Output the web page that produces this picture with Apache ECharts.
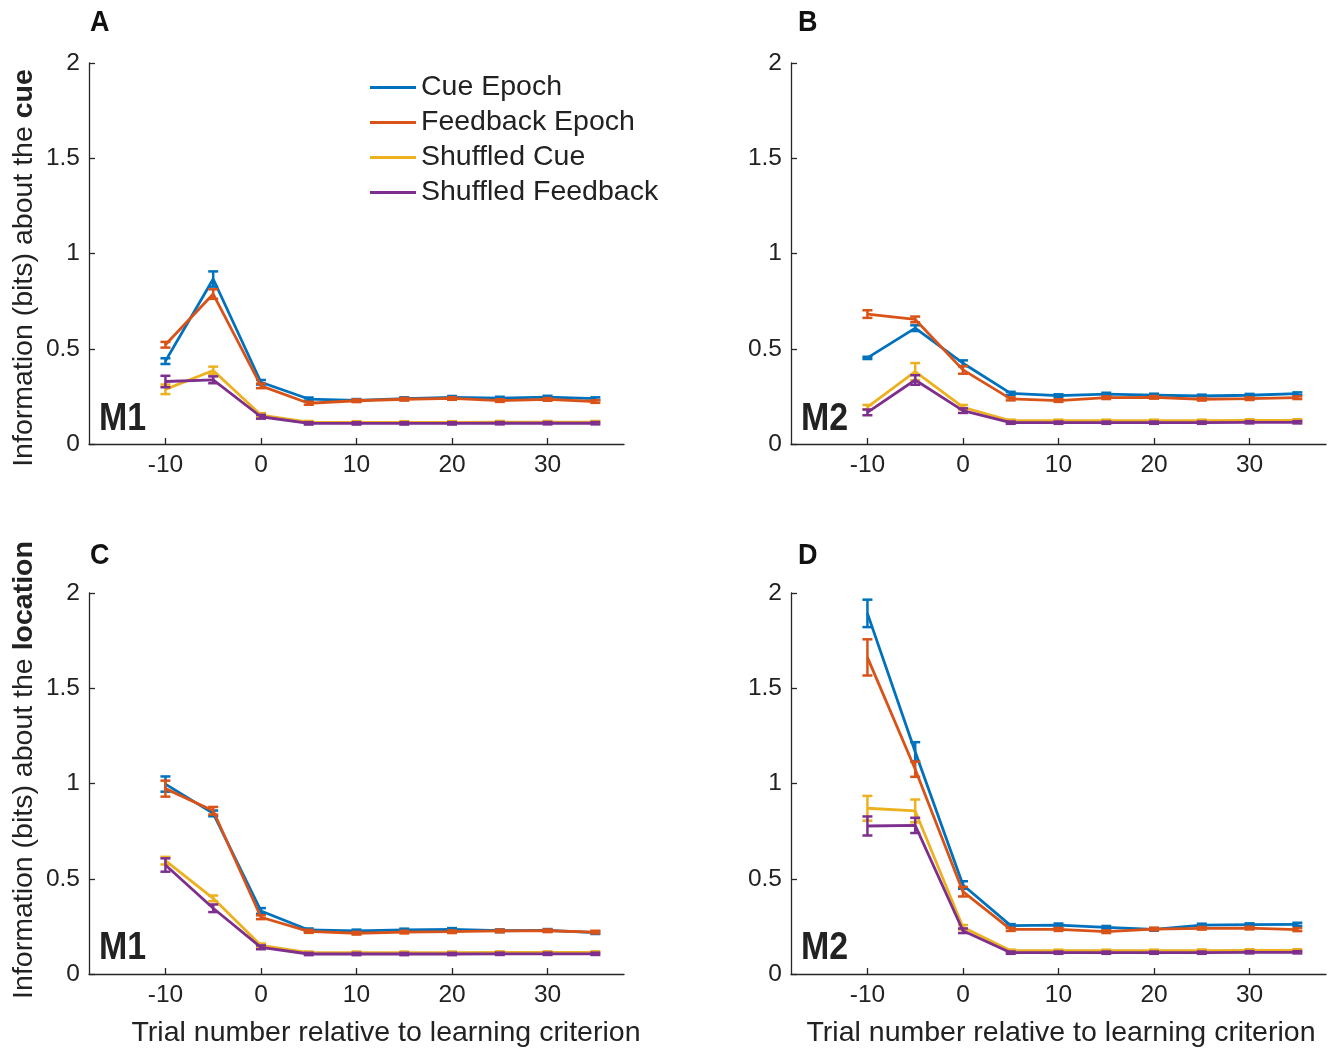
<!DOCTYPE html>
<html>
<head>
<meta charset="utf-8">
<script src="https://cdn.jsdelivr.net/npm/echarts@6/dist/echarts.min.js"></script>
<style>
html,body{margin:0;padding:0;background:#fff;}
#chart{width:1332px;height:1049px;}
</style>
</head>
<body>
<div id="chart"></div>
<script>
// ---- data ----
const trials = [-10, -5, 0, 5, 10, 15, 20, 25, 30, 35];
const xTicks = [-10, 0, 10, 20, 30];
const seriesNames = ['Cue Epoch', 'Feedback Epoch', 'Shuffled Cue', 'Shuffled Feedback'];

// Panel A (M1, cue)
const cueA      = [0.435, 0.866, 0.324, 0.236, 0.229, 0.238, 0.245, 0.241, 0.246, 0.238];
const cueAErr   = [0.015, 0.040, 0.012, 0.008, 0.007, 0.007, 0.007, 0.007, 0.007, 0.007];
const fbA       = [0.521, 0.787, 0.305, 0.214, 0.227, 0.235, 0.239, 0.228, 0.234, 0.223];
const fbAErr    = [0.015, 0.025, 0.012, 0.008, 0.007, 0.007, 0.007, 0.007, 0.007, 0.007];
const shCueA    = [0.287, 0.386, 0.152, 0.115, 0.114, 0.114, 0.114, 0.115, 0.115, 0.115];
const shCueAErr = [0.025, 0.020, 0.010, 0.006, 0.006, 0.006, 0.006, 0.006, 0.006, 0.006];
const shFbA     = [0.328, 0.337, 0.143, 0.108, 0.108, 0.108, 0.108, 0.109, 0.109, 0.109];
const shFbAErr  = [0.030, 0.018, 0.010, 0.006, 0.006, 0.006, 0.006, 0.006, 0.006, 0.006];

// Panel B (M2, cue)
const cueB      = [0.452, 0.608, 0.424, 0.266, 0.254, 0.262, 0.257, 0.252, 0.256, 0.264];
const cueBErr   = [0.006, 0.015, 0.015, 0.008, 0.007, 0.007, 0.007, 0.007, 0.007, 0.007];
const fbB       = [0.682, 0.654, 0.389, 0.237, 0.228, 0.243, 0.245, 0.235, 0.238, 0.243];
const fbBErr    = [0.020, 0.015, 0.020, 0.008, 0.007, 0.007, 0.007, 0.007, 0.007, 0.007];
const shCueB    = [0.193, 0.380, 0.193, 0.122, 0.122, 0.122, 0.122, 0.122, 0.124, 0.124];
const shCueBErr = [0.012, 0.045, 0.012, 0.006, 0.006, 0.006, 0.006, 0.006, 0.006, 0.006];
const shFbB     = [0.166, 0.336, 0.175, 0.112, 0.112, 0.112, 0.112, 0.112, 0.114, 0.114];
const shFbBErr  = [0.015, 0.025, 0.012, 0.006, 0.006, 0.006, 0.006, 0.006, 0.006, 0.006];

// Panel C (M1, location)
const cueC      = [0.997, 0.843, 0.331, 0.231, 0.226, 0.231, 0.234, 0.227, 0.229, 0.217];
const cueCErr   = [0.040, 0.015, 0.015, 0.008, 0.007, 0.007, 0.007, 0.007, 0.007, 0.007];
const fbC       = [0.973, 0.857, 0.298, 0.224, 0.214, 0.220, 0.222, 0.226, 0.227, 0.220];
const fbCErr    = [0.042, 0.020, 0.010, 0.008, 0.007, 0.007, 0.007, 0.007, 0.007, 0.007];
const shCueC    = [0.595, 0.397, 0.150, 0.112, 0.112, 0.112, 0.112, 0.113, 0.113, 0.113];
const shCueCErr = [0.020, 0.015, 0.010, 0.006, 0.006, 0.006, 0.006, 0.006, 0.006, 0.006];
const shFbC     = [0.572, 0.345, 0.140, 0.105, 0.105, 0.105, 0.105, 0.106, 0.106, 0.106];
const shFbCErr  = [0.035, 0.020, 0.010, 0.006, 0.006, 0.006, 0.006, 0.006, 0.006, 0.006];

// Panel D (M2, location)
const cueD      = [1.893, 1.167, 0.467, 0.254, 0.257, 0.245, 0.234, 0.257, 0.259, 0.261];
const cueDErr   = [0.072, 0.050, 0.020, 0.008, 0.008, 0.007, 0.007, 0.007, 0.007, 0.008];
const fbD       = [1.662, 1.075, 0.432, 0.234, 0.234, 0.222, 0.236, 0.240, 0.241, 0.233];
const fbDErr    = [0.095, 0.040, 0.025, 0.008, 0.008, 0.007, 0.007, 0.007, 0.007, 0.008];
const shCueD    = [0.870, 0.856, 0.245, 0.122, 0.122, 0.122, 0.122, 0.123, 0.124, 0.124];
const shCueDErr = [0.065, 0.060, 0.012, 0.006, 0.006, 0.006, 0.006, 0.006, 0.006, 0.006];
const shFbD     = [0.777, 0.780, 0.227, 0.112, 0.112, 0.112, 0.112, 0.112, 0.114, 0.114];
const shFbDErr  = [0.050, 0.040, 0.012, 0.006, 0.006, 0.006, 0.006, 0.006, 0.006, 0.006];

const panelLetters = ['A', 'B', 'C', 'D'];
const monkeyLabels = ['M1', 'M2', 'M1', 'M2'];
const yLabelTopic = ['cue', 'location'];
const xLabel = 'Trial number relative to learning criterion';

// ---- build ----
const colors = ['#0072BD', '#D95319', '#EDB120', '#7E2F8E'];
const panels = [
  [[cueA, cueAErr], [fbA, fbAErr], [shCueA, shCueAErr], [shFbA, shFbAErr]],
  [[cueB, cueBErr], [fbB, fbBErr], [shCueB, shCueBErr], [shFbB, shFbBErr]],
  [[cueC, cueCErr], [fbC, fbCErr], [shCueC, shCueCErr], [shFbC, shFbCErr]],
  [[cueD, cueDErr], [fbD, fbDErr], [shCueD, shCueDErr], [shFbD, shFbDErr]]
];
const gridPos = [
  {left: 89, top: 63}, {left: 791, top: 63},
  {left: 89, top: 593}, {left: 791, top: 593}
];
const FONT = '"Liberation Sans", Arial, sans-serif';
const axisColor = '#262626';

const grids = [], xAxes = [], yAxes = [], series = [];
gridPos.forEach((g, i) => {
  grids.push({left: g.left, top: g.top, width: 535, height: 381, containLabel: false});
  xAxes.push({
    type: 'value', gridIndex: i, min: -18, max: 38,
    axisLine: {show: true, onZero: false, lineStyle: {color: axisColor, width: 1.3}},
    axisTick: {show: true, inside: true, length: 6, customValues: xTicks, lineStyle: {color: axisColor, width: 1.3}},
    axisLabel: {customValues: xTicks, fontSize: 24.5, color: '#222', fontFamily: FONT, margin: 9},
    splitLine: {show: false}
  });
  yAxes.push({
    type: 'value', gridIndex: i, min: 0, max: 2, interval: 0.5,
    axisLine: {show: true, onZero: false, lineStyle: {color: axisColor, width: 1.3}},
    axisTick: {show: true, inside: true, length: 6, lineStyle: {color: axisColor, width: 1.3}},
    axisLabel: {fontSize: 24.5, color: '#222', fontFamily: FONT, margin: 9},
    splitLine: {show: false}
  });
  panels[i].forEach((pair, k) => {
    const vals = pair[0], errs = pair[1];
    series.push({
      type: 'line', name: seriesNames[k], xAxisIndex: i, yAxisIndex: i,
      data: trials.map((t, j) => [t, vals[j]]),
      symbol: 'none', lineStyle: {color: colors[k], width: 2.8},
      itemStyle: {color: colors[k]}, z: 2 + k, animation: false
    });
    series.push({
      type: 'custom', name: seriesNames[k] + ' error', xAxisIndex: i, yAxisIndex: i,
      data: trials.map((t, j) => [t, vals[j], errs[j]]),
      z: 2 + k, animation: false,
      renderItem: function (params, api) {
        const x = api.value(0), y = api.value(1), e = api.value(2);
        const top = api.coord([x, y + e]);
        const bot = api.coord([x, y - e]);
        const hw = 5;
        const st = {stroke: colors[k], lineWidth: 2.5};
        return {
          type: 'group',
          children: [
            {type: 'line', shape: {x1: top[0], y1: top[1], x2: bot[0], y2: bot[1]}, style: st},
            {type: 'line', shape: {x1: top[0] - hw, y1: top[1], x2: top[0] + hw, y2: top[1]}, style: st},
            {type: 'line', shape: {x1: bot[0] - hw, y1: bot[1], x2: bot[0] + hw, y2: bot[1]}, style: st}
          ]
        };
      }
    });
  });
});

const graphics = [];
const letterPos = [[90, 23], [798, 23], [90, 556], [798, 556]];
letterPos.forEach((p, i) => {
  graphics.push({type: 'text', x: p[0], y: p[1], scaleX: 0.9,
    style: {text: panelLetters[i], font: 'bold 30px ' + FONT, fill: '#111', textVerticalAlign: 'middle', textAlign: 'left'}});
});
const mPos = [[99, 419], [801, 419], [99, 948], [801, 948]];
mPos.forEach((p, i) => {
  graphics.push({type: 'text', x: p[0], y: p[1], scaleX: 0.87,
    style: {text: monkeyLabels[i], font: 'bold 39px ' + FONT, fill: '#222', textVerticalAlign: 'middle', textAlign: 'left'}});
});
[[24, 268, 0], [24, 770, 1]].forEach(p => {
  graphics.push({type: 'text', x: p[0], y: p[1], rotation: Math.PI / 2,
    style: {
      text: 'Information (bits) about the {b|' + yLabelTopic[p[2]] + '}',
      fontSize: 28.5, fontFamily: FONT, fill: '#222',
      align: 'center', verticalAlign: 'middle',
      rich: {b: {fontWeight: 'bold', fontSize: 28.5, fontFamily: FONT, fill: '#222'}}
    }});
});
[[386, 1033], [1061, 1033]].forEach(p => {
  graphics.push({type: 'text', x: p[0], y: p[1],
    style: {text: xLabel, fontSize: 28.5, fontFamily: FONT, fill: '#222', align: 'center', verticalAlign: 'middle'}});
});

const chart = echarts.init(document.getElementById('chart'), null, {renderer: 'canvas'});
chart.setOption({
  backgroundColor: '#fff',
  animation: false,
  grid: grids, xAxis: xAxes, yAxis: yAxes, series: series,
  legend: {
    data: seriesNames, orient: 'vertical', left: 365, top: 68,
    icon: 'rect', itemWidth: 46, itemHeight: 3, itemGap: 6,
    selectedMode: false,
    textStyle: {fontSize: 28.5, fontFamily: FONT, color: '#222', lineHeight: 29, padding: [0, 0, 0, 0]}
  },
  graphic: graphics
});
</script>
</body>
</html>
